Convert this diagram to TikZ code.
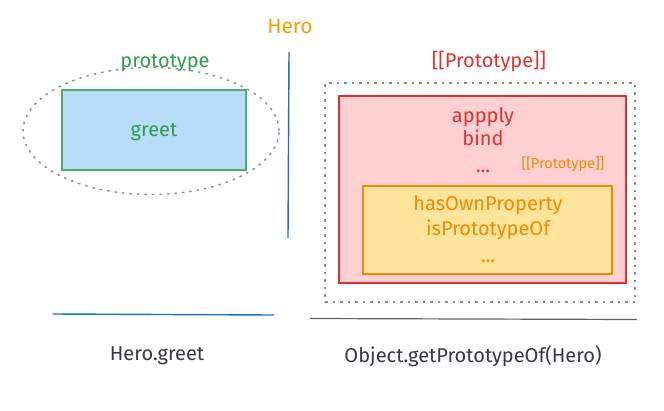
\documentclass[tikz,border=0pt]{standalone}
\usepackage{fontspec}
\setmainfont{Fira Sans}
\usetikzlibrary{shapes.geometric}
\definecolor{heroorange}{HTML}{F59F00}
\definecolor{protogreen}{HTML}{2F9E44}
\definecolor{greetblue}{HTML}{B7DDFB}
\definecolor{lineblue}{HTML}{1971C2}
\definecolor{objred}{HTML}{E03131}
\definecolor{objpink}{HTML}{FFD0D2}
\definecolor{baseorange}{HTML}{F08C00}
\definecolor{baseyellow}{HTML}{FFE59B}
\definecolor{dotgray}{HTML}{868E96}
\definecolor{inkgray}{HTML}{343A40}

\begin{document}
\begin{tikzpicture}[x=1pt,y=-1pt,
    every node/.style={inner sep=0pt},
    txt/.style={anchor=base, font=\fontsize{20}{24}\selectfont},
    smalltxt/.style={anchor=base, font=\fontsize{14.5}{17}\selectfont},
    dots/.style={draw=dotgray, line width=1.4pt, dash pattern=on 2.5pt off 5pt},
    box/.style={rectangle, line width=1.3pt}]
  \useasboundingbox (0,0) rectangle (664,410);

  % Hero and its split
  \node[txt, text=heroorange, font=\fontsize{21}{25}\selectfont] (hero) at (290,33) {Hero};
  \draw[lineblue, line width=1.4pt] (289,52) -- (288,238);

  % left side: own prototype
  \node[ellipse, dots, minimum width=256, minimum height=127] (protoring) at (151,131) {};
  \node[box, draw=protogreen!85, fill=greetblue, minimum width=184, minimum height=80] (greetbox) at (154,130) {};
  \node[txt, text=protogreen] (proto) at (165,67) {prototype};
  \node[txt, text=protogreen] (greet) at (154,136) {greet};

  % right side: Function.prototype and Object.prototype
  \node[rectangle, dots, minimum width=310, minimum height=219] (outer) at (480,192.5) {};
  \node[box, draw=objred, fill=objpink, minimum width=287, minimum height=187] (funcbox) at (482.5,189.5) {};
  \node[box, draw=baseorange, fill=baseyellow, minimum width=249, minimum height=88] (objbox) at (487.5,230) {};
  \node[txt, text=objred] (innerproto) at (489,67) {[[Prototype]]};
  \node[txt, text=objred] (apply) at (483,122) {appply};
  \node[txt, text=objred] (bind) at (483,145) {bind};
  \node[txt, text=objred] (funcmore) at (483,172) {...};
  \node[smalltxt, text=baseorange] (baseproto) at (563,168) {[[Prototype]]};
  \node[txt, text=baseorange] (hasown) at (488,210) {hasOwnProperty};
  \node[txt, text=baseorange] (isproto) at (488,235) {isPrototypeOf};
  \node[txt, text=baseorange] (objmore) at (488,262) {...};

  % bottom captions
  \draw[lineblue, line width=1.4pt] (53,314) -- (274,315);
  \draw[inkgray!80, line width=1.2pt] (310,318.5) -- (637,319.5);
  \node[txt, text=inkgray] (greetcall) at (157,360) {Hero.greet};
  \node[txt, text=inkgray] (getcall) at (473,362) {Object.getPrototypeOf(Hero)};
\end{tikzpicture}
\end{document}
